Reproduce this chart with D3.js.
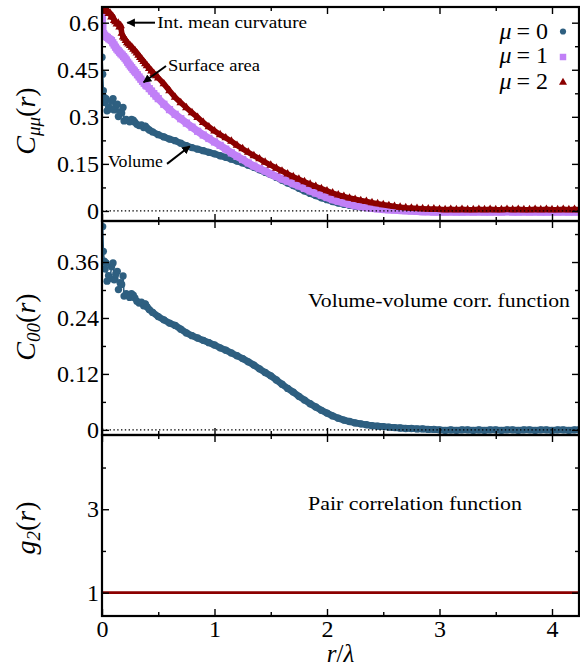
<!DOCTYPE html>
<html>
<head>
<meta charset="utf-8">
<script src="https://cdn.jsdelivr.net/npm/d3@7"></script>
<style>
  body { margin: 0; background: #fff; }
  svg { display: block; }
  text { font-family: "Liberation Serif", "Times New Roman", Times, serif; fill: #000; }
</style>
</head>
<body>
<svg width="580" height="668"></svg>
<script>
// valeurs : [r/lambda, C(r)]
// mu = 0 (volume), meme serie dans le panneau du haut et C00 au milieu
const volume = [
  [0.000,0.490],[0.006,0.436],[0.012,0.383],[0.020,0.362],[0.028,0.345],[0.036,0.358],
  [0.045,0.319],[0.058,0.331],[0.072,0.325],[0.085,0.350],[0.098,0.358],[0.108,0.322],
  [0.122,0.334],[0.136,0.340],[0.146,0.301],[0.160,0.316],[0.175,0.312],[0.187,0.330],
  [0.196,0.287],[0.215,0.292],[0.232,0.288],[0.246,0.284],[0.262,0.292],[0.278,0.289],
  [0.292,0.283],[0.310,0.276],[0.330,0.272],[0.350,0.274],[0.370,0.266],[0.385,0.270],
  [0.400,0.264],[0.420,0.258],[0.450,0.252],[0.500,0.243],[0.55,0.236],[0.60,0.229],
  [0.65,0.224],[0.70,0.216],[0.75,0.208],[0.80,0.202],[0.85,0.197],[0.90,0.192],
  [0.95,0.187],[1.00,0.182],[1.05,0.176],[1.10,0.171],[1.15,0.165],[1.20,0.159],
  [1.25,0.153],[1.30,0.146],[1.35,0.139],[1.40,0.131],[1.45,0.123],[1.50,0.116],
  [1.55,0.107],[1.60,0.098],[1.65,0.089],[1.70,0.081],[1.75,0.072],[1.80,0.064],
  [1.85,0.056],[1.90,0.049],[1.95,0.042],[2.00,0.036],[2.05,0.030],[2.10,0.025],
  [2.15,0.021],[2.20,0.018],[2.25,0.015],[2.30,0.013],[2.35,0.011],[2.40,0.009],
  [2.45,0.008],[2.50,0.007],[2.55,0.006],[2.60,0.005],[2.65,0.004],[2.70,0.003],
  [2.75,0.003],[2.80,0.002],[2.85,0.002],[2.90,0.001],[2.95,0.001],[3.00,0.000],
  [3.05,-0.001],[3.10,0.000],[3.15,-0.001],[3.20,0.000],[3.25,0.000],[3.30,-0.001],
  [3.35,0.000],[3.40,-0.001],[3.45,0.000],[3.50,0.000],[3.55,-0.001],[3.60,0.000],
  [3.65,0.000],[3.70,-0.001],[3.75,0.000],[3.80,0.000],[3.85,-0.001],[3.90,0.000],
  [3.95,0.000],[4.00,-0.001],[4.05,0.000],[4.10,0.000],[4.15,-0.001],[4.20,0.000],[4.24,0.000]
];
// mu = 1 (surface)
const surface = [
  [0.000,0.632],[0.004,0.610],[0.008,0.585],[0.014,0.565],[0.024,0.560],[0.036,0.556],
  [0.048,0.553],[0.060,0.549],[0.072,0.546],[0.084,0.543],[0.096,0.536],[0.108,0.529],
  [0.120,0.522],[0.132,0.516],[0.144,0.511],[0.156,0.506],[0.168,0.501],[0.180,0.497],
  [0.192,0.492],[0.204,0.487],[0.216,0.481],[0.228,0.474],[0.240,0.468],[0.252,0.462],
  [0.264,0.457],[0.276,0.451],[0.288,0.446],[0.300,0.441],[0.315,0.434],[0.330,0.427],
  [0.345,0.420],[0.360,0.413],[0.375,0.407],[0.390,0.401],[0.400,0.398],[0.420,0.390],
  [0.440,0.382],[0.460,0.374],[0.480,0.366],[0.500,0.358],[0.55,0.340],[0.60,0.323],
  [0.65,0.308],[0.70,0.294],[0.75,0.280],[0.80,0.267],[0.85,0.254],[0.90,0.242],
  [0.95,0.231],[1.00,0.220],[1.05,0.209],[1.10,0.197],[1.15,0.185],[1.20,0.174],
  [1.25,0.164],[1.30,0.153],[1.35,0.143],[1.40,0.135],[1.45,0.127],[1.50,0.118],
  [1.55,0.110],[1.60,0.102],[1.65,0.095],[1.70,0.087],[1.75,0.080],[1.80,0.072],
  [1.85,0.064],[1.90,0.057],[1.95,0.050],[2.00,0.043],[2.05,0.036],[2.10,0.031],
  [2.15,0.026],[2.20,0.021],[2.25,0.017],[2.30,0.014],[2.35,0.011],[2.40,0.009],
  [2.45,0.007],[2.50,0.005],[2.55,0.004],[2.60,0.003],[2.65,0.002],[2.70,0.001],
  [2.75,0.000],[2.80,-0.001],[2.85,-0.002],[2.90,-0.002],[2.95,-0.003],[3.00,-0.002],
  [3.05,-0.003],[3.10,-0.002],[3.15,-0.003],[3.20,-0.003],[3.25,-0.002],[3.30,-0.003],
  [3.35,-0.002],[3.40,-0.003],[3.45,-0.003],[3.50,-0.002],[3.55,-0.003],[3.60,-0.002],
  [3.65,-0.003],[3.70,-0.003],[3.75,-0.002],[3.80,-0.003],[3.85,-0.002],[3.90,-0.003],
  [3.95,-0.003],[4.00,-0.002],[4.05,-0.003],[4.10,-0.002],[4.15,-0.003],[4.20,-0.003],[4.24,-0.002]
];
// mu = 2 (courbure moyenne integree)
const curvature = [
  [0.000,0.650],[0.012,0.646],[0.024,0.641],[0.036,0.636],[0.048,0.638],[0.060,0.629],
  [0.072,0.630],[0.084,0.618],[0.096,0.620],[0.108,0.607],[0.120,0.603],[0.132,0.596],
  [0.144,0.598],[0.156,0.586],[0.166,0.590],[0.176,0.566],[0.188,0.554],[0.200,0.550],
  [0.212,0.543],[0.224,0.536],[0.236,0.532],[0.250,0.527],[0.265,0.522],[0.280,0.515],
  [0.295,0.510],[0.310,0.503],[0.325,0.496],[0.340,0.489],[0.355,0.483],[0.370,0.476],
  [0.385,0.469],[0.400,0.463],[0.420,0.454],[0.440,0.446],[0.460,0.438],[0.480,0.431],
  [0.500,0.424],[0.55,0.405],[0.60,0.383],[0.65,0.362],[0.70,0.345],[0.75,0.329],
  [0.80,0.313],[0.85,0.298],[0.90,0.282],[0.95,0.268],[1.00,0.255],[1.05,0.243],
  [1.10,0.233],[1.15,0.222],[1.20,0.209],[1.25,0.198],[1.30,0.187],[1.35,0.176],
  [1.40,0.166],[1.45,0.155],[1.50,0.146],[1.55,0.136],[1.60,0.127],[1.65,0.118],
  [1.70,0.109],[1.75,0.101],[1.80,0.093],[1.85,0.085],[1.90,0.078],[1.95,0.071],
  [2.00,0.064],[2.05,0.057],[2.10,0.051],[2.15,0.046],[2.20,0.041],[2.25,0.037],
  [2.30,0.033],[2.35,0.030],[2.40,0.026],[2.45,0.023],[2.50,0.020],[2.55,0.017],
  [2.60,0.014],[2.65,0.012],[2.70,0.010],[2.75,0.009],[2.80,0.008],[2.85,0.007],
  [2.90,0.006],[2.95,0.006],[3.00,0.005],[3.05,0.004],[3.10,0.005],[3.15,0.004],
  [3.20,0.005],[3.25,0.004],[3.30,0.004],[3.35,0.005],[3.40,0.004],[3.45,0.005],
  [3.50,0.004],[3.55,0.004],[3.60,0.005],[3.65,0.004],[3.70,0.005],[3.75,0.004],
  [3.80,0.004],[3.85,0.005],[3.90,0.004],[3.95,0.005],[4.00,0.004],[4.05,0.004],
  [4.10,0.005],[4.15,0.004],[4.20,0.005],[4.24,0.004]
];
// fonction de correlation de paires
const pairCorr = [[0.00,1.0],[4.24,1.0]];

const xTicks = [0, 1, 2, 3, 4];
const xMinor = [0.5, 1.5, 2.5, 3.5];
const topTicks = [0, 0.15, 0.3, 0.45, 0.6];
const topLabels = ["0", "0.15", "0.3", "0.45", "0.6"];
const topMinor = [0.075, 0.225, 0.375, 0.525];
const midTicks = [0, 0.12, 0.24, 0.36];
const midLabels = ["0", "0.12", "0.24", "0.36"];
const midMinor = [0.06, 0.18, 0.30, 0.42];
const botTicks = [1, 3];
const botLabels = ["1", "3"];
const botMinor = [2, 4];

const colors = { mu0: "#2e5f80", mu1: "#c180f7", mu2: "#8b0000" };
const serif = '"Liberation Serif", "Times New Roman", Times, serif';

const svg = d3.select("svg");
const left = 102, right = 579;
const x = d3.scaleLinear().domain([0, 4.24]).range([left, right]);

const panels = [
  { id: "top", top: 7, bottom: 221, y: d3.scaleLinear().domain([-0.032, 0.65]).range([221, 7]),
    ticks: topTicks, labels: topLabels, minor: topMinor, zero: true },
  { id: "mid", top: 221, bottom: 435, y: d3.scaleLinear().domain([-0.011, 0.448]).range([435, 221]),
    ticks: midTicks, labels: midLabels, minor: midMinor, zero: true },
  { id: "bot", top: 435, bottom: 616, y: d3.scaleLinear().domain([0.44, 4.78]).range([616, 435]),
    ticks: botTicks, labels: botLabels, minor: botMinor, zero: false }
];

const defs = svg.append("defs");
panels.forEach(p => {
  defs.append("clipPath").attr("id", "clip-" + p.id)
    .append("rect").attr("x", left).attr("y", p.top)
    .attr("width", right - left).attr("height", p.bottom - p.top);
});
defs.append("marker").attr("id", "head")
  .attr("viewBox", "0 0 10 10").attr("refX", 9).attr("refY", 5)
  .attr("markerWidth", 4.2).attr("markerHeight", 4.2).attr("orient", "auto")
  .append("path").attr("d", "M0,0L10,5L0,10Z").attr("fill", "#000");

const circ = d3.symbol().type(d3.symbolCircle).size(42);
const sq = d3.symbol().type(d3.symbolSquare).size(52);
const tri = d3.symbol().type(d3.symbolTriangle).size(32);
const circL = d3.symbol().type(d3.symbolCircle).size(30);
const sqL = d3.symbol().type(d3.symbolSquare).size(42);
const triL = d3.symbol().type(d3.symbolTriangle).size(28);

// ligne fine + bande epaisse (a partir de rBand) + marqueurs
function drawSeries(g, y, data, color, sym, lw, bw, rBand) {
  const line = d3.line().x(d => x(d[0])).y(d => y(d[1]));
  g.append("path").attr("d", line(data))
    .attr("fill", "none").attr("stroke", color).attr("stroke-width", lw);
  g.append("path").attr("d", line(data.filter(d => d[0] >= rBand)))
    .attr("fill", "none").attr("stroke", color).attr("stroke-width", bw)
    .attr("stroke-linejoin", "round").attr("stroke-linecap", "round");
  g.selectAll(null).data(data).enter().append("path")
    .attr("d", sym)
    .attr("transform", d => `translate(${x(d[0])},${y(d[1])})`)
    .attr("fill", color);
}

// donnees
const gTop = svg.append("g").attr("clip-path", "url(#clip-top)");
drawSeries(gTop, panels[0].y, volume, colors.mu0, circ, 1.6, 6.6, 0.38);
drawSeries(gTop, panels[0].y, surface, colors.mu1, sq, 3, 7.6, 0.01);
drawSeries(gTop, panels[0].y, curvature, colors.mu2, tri, 2.5, 5.6, 0.0);

const gMid = svg.append("g").attr("clip-path", "url(#clip-mid)");
drawSeries(gMid, panels[1].y, volume, colors.mu0, circ, 1.6, 6.8, 0.38);

const gBot = svg.append("g").attr("clip-path", "url(#clip-bot)");
gBot.append("path")
  .attr("d", d3.line().x(d => x(d[0])).y(d => panels[2].y(d[1]))(pairCorr))
  .attr("fill", "none").attr("stroke", colors.mu2).attr("stroke-width", 2.6);

// axes
panels.forEach((p, k) => {
  const last = k === panels.length - 1;
  if (p.zero) {
    svg.append("line")
      .attr("x1", left).attr("x2", right).attr("y1", p.y(0)).attr("y2", p.y(0))
      .attr("stroke", "#000").attr("stroke-width", 1.3)
      .attr("stroke-dasharray", "1.4,2.4");
  }

  const ax = [
    [d3.axisLeft(p.y).tickValues(p.ticks).tickSize(-7).tickPadding(3).tickFormat((d, i) => p.labels[i]), `translate(${left},0)`],
    [d3.axisLeft(p.y).tickValues(p.minor).tickSize(-4).tickFormat(""), `translate(${left},0)`],
    [d3.axisRight(p.y).tickValues(p.ticks).tickSize(-7).tickFormat(""), `translate(${right},0)`],
    [d3.axisRight(p.y).tickValues(p.minor).tickSize(-4).tickFormat(""), `translate(${right},0)`],
    [d3.axisTop(x).tickValues(xTicks).tickSize(-7).tickFormat(""), `translate(0,${p.top})`],
    [d3.axisTop(x).tickValues(xMinor).tickSize(-4).tickFormat(""), `translate(0,${p.top})`],
    [d3.axisBottom(x).tickValues(xTicks).tickSize(-7).tickPadding(4).tickFormat(last ? d3.format("d") : ""), `translate(0,${p.bottom})`],
    [d3.axisBottom(x).tickValues(xMinor).tickSize(-4).tickFormat(""), `translate(0,${p.bottom})`]
  ];
  ax.forEach(([a, tr]) => {
    const g = svg.append("g").attr("transform", tr).call(a);
    g.attr("font-family", serif);
    g.select(".domain").remove();
    g.selectAll(".tick line").attr("stroke", "#000").attr("stroke-width", 1.4);
    g.selectAll(".tick text").attr("font-size", 24).attr("font-family", serif);
  });

  svg.append("rect").attr("x", left).attr("y", p.top)
    .attr("width", right - left).attr("height", p.bottom - p.top)
    .attr("fill", "none").attr("stroke", "#000").attr("stroke-width", 2.2);
});

// titres des axes
function yLabel(cy, main, sub) {
  const t = svg.append("text")
    .attr("transform", `translate(35,${cy}) rotate(-90)`)
    .attr("text-anchor", "middle").attr("font-size", 28);
  t.append("tspan").attr("font-style", "italic").text(main);
  t.append("tspan").attr("font-style", "italic").attr("font-size", 19).attr("dy", 5).text(sub);
  t.append("tspan").attr("dy", -5).text("(");
  t.append("tspan").attr("font-style", "italic").text("r");
  t.append("tspan").text(")");
}
yLabel(121, "C", "μμ");
yLabel(327, "C", "00");
yLabel(528, "g", "2");

const xl = svg.append("text").attr("x", x(2.12)).attr("y", 662)
  .attr("text-anchor", "middle").attr("font-size", 25).attr("font-style", "italic");
xl.append("tspan").text("r");
xl.append("tspan").attr("font-style", "normal").text("/");
xl.append("tspan").text("λ");

// legende
const legend = [
  { name: "0", color: colors.mu0, sym: circL, yb: 39, ym: 31.5 },
  { name: "1", color: colors.mu1, sym: sqL, yb: 63, ym: 57 },
  { name: "2", color: colors.mu2, sym: triL, yb: 89, ym: 82.5 }
];
legend.forEach(l => {
  const t = svg.append("text").attr("x", 548).attr("y", l.yb)
    .attr("text-anchor", "end").attr("font-size", 24);
  t.append("tspan").attr("font-style", "italic").text("μ");
  t.append("tspan").attr("dx", 5).text("= " + l.name);
  svg.append("path").attr("d", l.sym).attr("fill", l.color)
    .attr("transform", `translate(563,${l.ym})`);
});

// annotations (coordonnees en unites des donnees)
const yT = panels[0].y;
const notes = [
  { text: "Int. mean curvature", tx: 0.49, ty: 0.583, anchor: "start", len: 150, from: [0.471, 0.60], to: [0.225, 0.60] },
  { text: "Surface area", tx: 0.587, ty: 0.445, anchor: "start", len: 92, from: [0.569, 0.462], to: [0.370, 0.410] },
  { text: "Volume", tx: 0.542, ty: 0.140, anchor: "end", len: 55, from: [0.578, 0.150], to: [0.78, 0.206] }
];
notes.forEach(n => {
  svg.append("line")
    .attr("x1", x(n.from[0])).attr("y1", yT(n.from[1]))
    .attr("x2", x(n.to[0])).attr("y2", yT(n.to[1]))
    .attr("stroke", "#000").attr("stroke-width", 2).attr("marker-end", "url(#head)");
  svg.append("text").attr("x", x(n.tx)).attr("y", yT(n.ty))
    .attr("text-anchor", n.anchor).attr("font-size", 17)
    .attr("textLength", n.len).attr("lengthAdjust", "spacingAndGlyphs")
    .text(n.text);
});

svg.append("text").attr("x", x(1.831)).attr("y", panels[1].y(0.2636))
  .attr("font-size", 18).attr("textLength", 262).attr("lengthAdjust", "spacingAndGlyphs")
  .text("Volume-volume corr. function");
svg.append("text").attr("x", x(1.831)).attr("y", panels[2].y(2.985))
  .attr("font-size", 18).attr("textLength", 214).attr("lengthAdjust", "spacingAndGlyphs")
  .text("Pair correlation function");
</script>
</body>
</html>
